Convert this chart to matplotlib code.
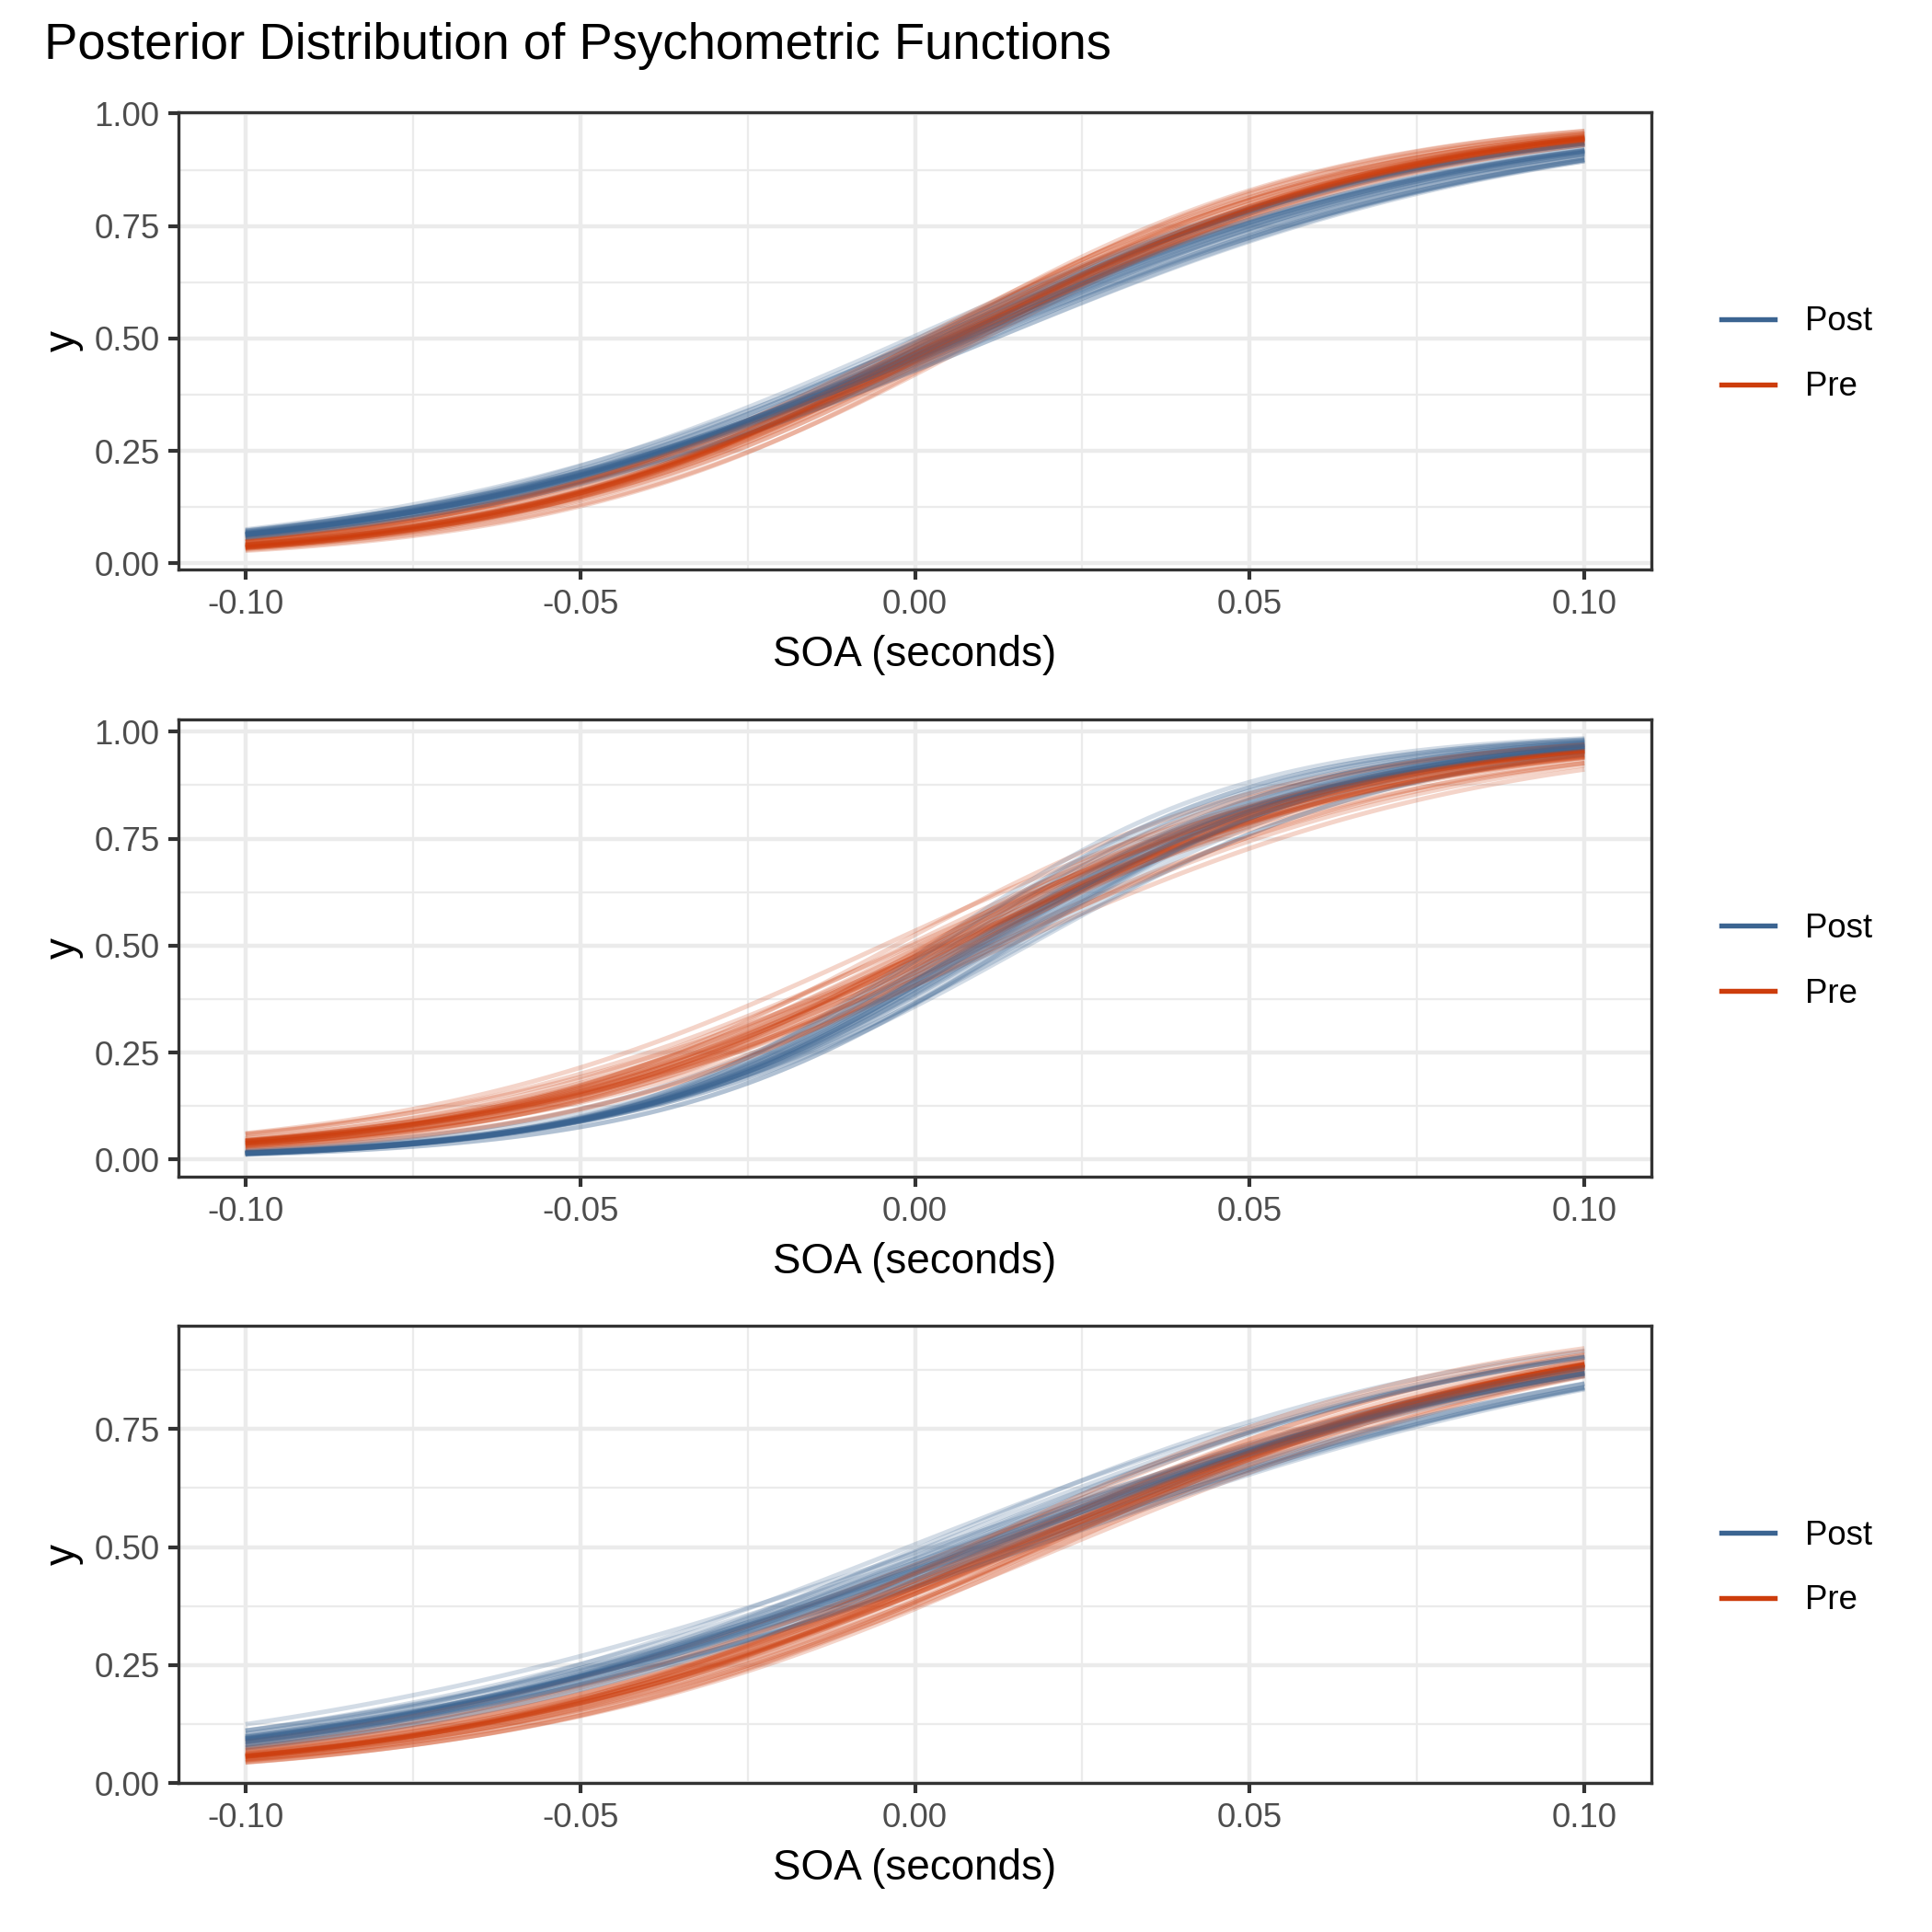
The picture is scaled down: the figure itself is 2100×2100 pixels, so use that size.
import numpy as np
import matplotlib.pyplot as plt
from matplotlib.lines import Line2D

plt.rcParams['font.family'] = ['Liberation Sans', 'DejaVu Sans']
plt.rcParams['axes.unicode_minus'] = False

# posterior draws of the psychometric function (PSS = 50% point, slope)
# panel 1
pss_p1_pre = [0.0053, 0.0021, 0.0078, 0.0049, 0.0095, 0.0012, 0.0061, 0.0036, 0.0084, 0.0057,
              0.0029, 0.0068, 0.0044, 0.0103, 0.0005, 0.0072, 0.0050, 0.0039, 0.0081, 0.0025,
              0.0064, 0.0047, 0.0090, 0.0017, 0.0058, 0.0033, 0.0075, 0.0042, 0.0066, 0.0055]
slope_p1_pre = [30.1, 31.8, 28.9, 30.6, 32.4, 29.3, 30.0, 27.8, 31.2, 29.7,
                33.0, 30.4, 28.4, 31.5, 29.9, 30.8, 27.3, 32.0, 30.2, 29.0,
                31.0, 28.7, 30.5, 32.7, 29.5, 30.9, 28.1, 31.4, 29.8, 30.3]
pss_p1_post = [0.0064, 0.0012, 0.0101, 0.0047, 0.0083, -0.0008, 0.0072, 0.0030, 0.0118, 0.0056,
               0.0021, 0.0090, 0.0040, 0.0067, 0.0118, 0.0051, 0.0003, 0.0078, 0.0059, 0.0026,
               0.0096, 0.0044, 0.0070, 0.0015, 0.0108, 0.0061, 0.0035, 0.0086, 0.0053, 0.0075]
slope_p1_post = [25.2, 26.8, 24.1, 25.7, 23.6, 26.2, 25.0, 27.3, 24.5, 25.5,
                 24.6, 26.0, 24.8, 25.9, 24.2, 25.3, 26.5, 24.3, 25.1, 27.0,
                 24.0, 25.8, 23.9, 26.4, 25.4, 24.6, 26.9, 23.4, 25.6, 24.9]

# panel 2
pss_p2_pre = [0.0045, -0.0030, 0.0102, 0.0020, 0.0071, 0.0138, 0.0038, -0.0012, 0.0086, 0.0052,
              0.0005, 0.0115, 0.0028, 0.0063, -0.0048, 0.0079, 0.0041, 0.0012, 0.0094, 0.0057,
              0.0033, -0.0005, 0.0068, 0.0125, 0.0048, 0.0017, 0.0083, 0.0036, 0.0059, 0.0024]
slope_p2_pre = [30.8, 33.5, 28.2, 31.6, 29.4, 27.1, 32.2, 30.1, 34.6, 29.0,
                31.0, 27.8, 32.9, 30.5, 28.7, 31.9, 26.5, 30.3, 33.8, 29.6,
                31.3, 28.0, 32.5, 30.0, 29.2, 35.2, 30.7, 28.5, 31.7, 30.9]
pss_p2_post = [0.0107, 0.0058, 0.0152, 0.0090, 0.0126, 0.0041, 0.0113, 0.0075, 0.0168, 0.0099,
               0.0066, 0.0138, 0.0084, 0.0119, 0.0024, 0.0104, 0.0146, 0.0071, 0.0095, 0.0130,
               0.0052, 0.0110, 0.0087, 0.0161, 0.0079, 0.0123, 0.0035, 0.0101, 0.0143, 0.0093]
slope_p2_post = [38.0, 40.6, 35.9, 38.8, 36.7, 41.5, 37.4, 39.3, 34.8, 38.3,
                 40.0, 36.2, 39.7, 37.8, 42.3, 37.1, 38.6, 35.3, 39.0, 36.9,
                 40.9, 37.6, 38.1, 34.2, 39.5, 36.4, 41.0, 37.9, 38.9, 36.0]

# panel 3
pss_p3_pre = [0.0159, 0.0112, 0.0203, 0.0141, 0.0178, 0.0087, 0.0166, 0.0128, 0.0221, 0.0150,
              0.0105, 0.0190, 0.0135, 0.0172, 0.0069, 0.0155, 0.0196, 0.0121, 0.0146, 0.0184,
              0.0098, 0.0162, 0.0139, 0.0212, 0.0117, 0.0169, 0.0080, 0.0153, 0.0187, 0.0144]
slope_p3_pre = [24.2, 25.5, 23.1, 24.7, 22.6, 25.9, 24.0, 26.4, 23.5, 24.4,
                22.2, 25.1, 23.8, 24.9, 21.9, 24.3, 25.7, 23.3, 24.1, 26.1,
                23.0, 24.6, 22.9, 25.3, 24.5, 23.7, 26.7, 22.4, 24.8, 23.9]
pss_p3_post = [0.0096, 0.0035, 0.0150, 0.0072, 0.0121, -0.0010, 0.0104, 0.0058, 0.0172, 0.0085,
               0.0027, 0.0137, 0.0066, 0.0112, 0.0175, 0.0090, 0.0042, 0.0128, 0.0079, 0.0018,
               0.0145, 0.0061, 0.0101, 0.0008, 0.0160, 0.0093, 0.0050, 0.0117, 0.0082, 0.0107]
slope_p3_post = [20.8, 22.9, 19.4, 21.5, 18.6, 22.3, 20.5, 23.7, 19.9, 21.0,
                 19.0, 22.0, 20.1, 21.8, 19.6, 20.7, 23.2, 19.6, 20.9, 22.6,
                 19.1, 21.3, 18.9, 24.1, 20.3, 21.6, 19.8, 22.7, 20.6, 21.1]

groups = ['Post', 'Pre']
colors = {'Post': '#3B6491', 'Pre': '#CD3D0C'}

x_ticks = [-0.10, -0.05, 0.00, 0.05, 0.10]
x_ticklabels = ['-0.10', '-0.05', '0.00', '0.05', '0.10']
y_ticks_full = [0.00, 0.25, 0.50, 0.75, 1.00]
y_ticklabels_full = ['0.00', '0.25', '0.50', '0.75', '1.00']

panels = [
    {'pre': (pss_p1_pre, slope_p1_pre), 'post': (pss_p1_post, slope_p1_post),
     'ylim': (-0.014, 1.003), 'nyt': 5, 'bottom': 0.7052},
    {'pre': (pss_p2_pre, slope_p2_pre), 'post': (pss_p2_post, slope_p2_post),
     'ylim': (-0.040, 1.029), 'nyt': 5, 'bottom': 0.3910},
    {'pre': (pss_p3_pre, slope_p3_pre), 'post': (pss_p3_post, slope_p3_post),
     'ylim': (0.0, 0.969), 'nyt': 4, 'bottom': 0.0771},
]

soa = np.linspace(-0.1, 0.1, 121)


def psychometric(x, pss, slope):
    return 1.0 / (1.0 + np.exp(-slope * (x - pss)))


fig = plt.figure(figsize=(7, 7), dpi=300)
fig.text(48 / 2100, 1 - 64 / 2100, 'Posterior Distribution of Psychometric Functions',
         fontsize=13.1, ha='left', va='baseline')

for p in panels:
    ax = fig.add_axes([0.0924, p['bottom'], 0.7624, 0.2367])
    pss_pre, sl_pre = p['pre']
    pss_post, sl_post = p['post']
    for i in range(len(pss_pre)):
        ax.plot(soa, psychometric(soa, pss_post[i], sl_post[i]), color=colors['Post'],
                alpha=0.22, lw=1.2, solid_capstyle='butt')
        ax.plot(soa, psychometric(soa, pss_pre[i], sl_pre[i]), color=colors['Pre'],
                alpha=0.22, lw=1.2, solid_capstyle='butt')

    ax.set_xlim(-0.11, 0.11)
    ax.set_ylim(*p['ylim'])
    ax.set_xticks(x_ticks)
    ax.set_xticklabels(x_ticklabels)
    ax.set_xticks([-0.075, -0.025, 0.025, 0.075], minor=True)
    ax.set_yticks(y_ticks_full[:p['nyt']])
    ax.set_yticklabels(y_ticklabels_full[:p['nyt']])
    ax.set_yticks([0.125, 0.375, 0.625, 0.875], minor=True)
    ax.grid(which='major', color='#EBEBEB', lw=1.07)
    ax.grid(which='minor', color='#EBEBEB', lw=0.53)
    ax.set_axisbelow(True)
    ax.tick_params(which='minor', length=0)
    ax.tick_params(which='major', length=2.75, width=1.0, color='#333333',
                   labelsize=8.8, labelcolor='#4D4D4D', pad=2.2)
    for s in ax.spines.values():
        s.set_color('#333333')
        s.set_linewidth(0.8)
    ax.set_xlabel('SOA (seconds)', fontsize=11, labelpad=3.75)
    ax.set_ylabel('y', fontsize=11, labelpad=2.75)

    handles = [Line2D([], [], color=colors[g], lw=1.3) for g in groups]
    ax.legend(handles, groups, loc='center left', bbox_to_anchor=(1.0475, 0.470),
              frameon=False, fontsize=8.8, handlelength=1.58, handletextpad=0.9,
              labelspacing=0.98, borderpad=0, borderaxespad=0)

fig.savefig('out.png', dpi=300)
